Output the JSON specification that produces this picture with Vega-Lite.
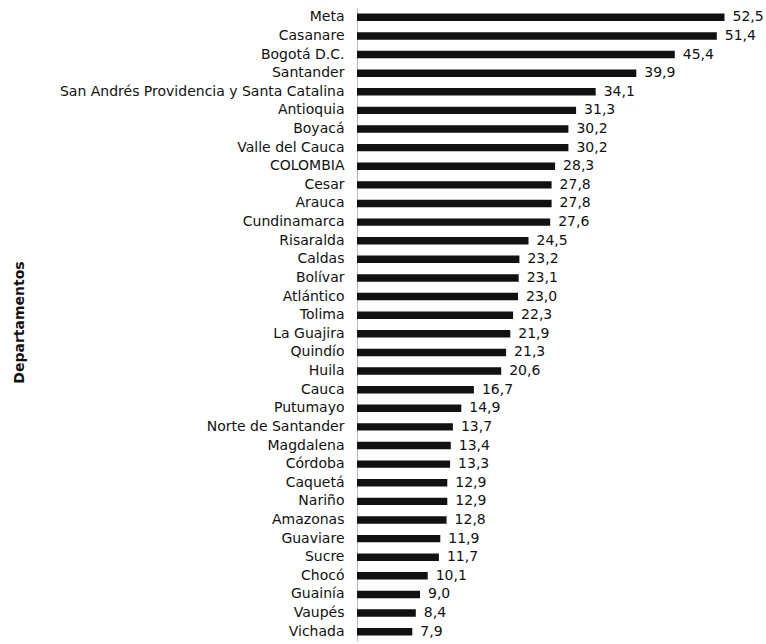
{
  "$schema": "https://vega.github.io/schema/vega-lite/v6.json",
  "autosize": "none",
  "width": 385,
  "height": 633,
  "padding": {"left": 357, "top": 8, "right": 24, "bottom": 3},
  "background": "white",
  "config": {
    "view": {"stroke": null},
    "locale": {"number": {"decimal": ",", "thousands": ".", "grouping": [3], "currency": ["", ""]}},
    "font": "DejaVu Sans"
  },
  "data": {
    "values": [
      {"dep": "Meta", "v": 52.5},
      {"dep": "Casanare", "v": 51.4},
      {"dep": "Bogotá D.C.", "v": 45.4},
      {"dep": "Santander", "v": 39.9},
      {"dep": "San Andrés Providencia y Santa Catalina", "v": 34.1},
      {"dep": "Antioquia", "v": 31.3},
      {"dep": "Boyacá", "v": 30.2},
      {"dep": "Valle del Cauca", "v": 30.2},
      {"dep": "COLOMBIA", "v": 28.3},
      {"dep": "Cesar", "v": 27.8},
      {"dep": "Arauca", "v": 27.8},
      {"dep": "Cundinamarca", "v": 27.6},
      {"dep": "Risaralda", "v": 24.5},
      {"dep": "Caldas", "v": 23.2},
      {"dep": "Bolívar", "v": 23.1},
      {"dep": "Atlántico", "v": 23.0},
      {"dep": "Tolima", "v": 22.3},
      {"dep": "La Guajira", "v": 21.9},
      {"dep": "Quindío", "v": 21.3},
      {"dep": "Huila", "v": 20.6},
      {"dep": "Cauca", "v": 16.7},
      {"dep": "Putumayo", "v": 14.9},
      {"dep": "Norte de Santander", "v": 13.7},
      {"dep": "Magdalena", "v": 13.4},
      {"dep": "Córdoba", "v": 13.3},
      {"dep": "Caquetá", "v": 12.9},
      {"dep": "Nariño", "v": 12.9},
      {"dep": "Amazonas", "v": 12.8},
      {"dep": "Guaviare", "v": 11.9},
      {"dep": "Sucre", "v": 11.7},
      {"dep": "Chocó", "v": 10.1},
      {"dep": "Guainía", "v": 9.0},
      {"dep": "Vaupés", "v": 8.4},
      {"dep": "Vichada", "v": 7.9}
    ]
  },
  "encoding": {
    "y": {
      "field": "dep",
      "type": "nominal",
      "sort": null,
      "scale": {"paddingInner": 0.6, "paddingOuter": 0.3},
      "axis": {
        "title": "Departamentos",
        "titleFont": "DejaVu Sans",
        "titleFontSize": 14,
        "titleFontWeight": "bold",
        "titleColor": "#111",
        "titleX": -338,
        "titleY": 314,
        "titleAngle": 270,
        "titleAlign": "center",
        "titleBaseline": "middle",
        "labelFont": "DejaVu Sans",
        "labelFontSize": 14,
        "labelColor": "#111",
        "labelPadding": 13,
        "labelLimit": 400,
        "ticks": false,
        "domain": true,
        "domainColor": "#bbbbbb",
        "domainWidth": 1,
        "grid": false
      }
    },
    "x": {
      "field": "v",
      "type": "quantitative",
      "scale": {"domain": [0, 55], "nice": false},
      "axis": null
    }
  },
  "layer": [
    {"mark": {"type": "bar", "color": "#111111"}},
    {
      "mark": {"type": "text", "align": "left", "baseline": "middle", "dx": 8, "font": "DejaVu Sans", "fontSize": 14, "color": "#111"},
      "encoding": {"text": {"field": "v", "type": "quantitative", "format": ".1f"}}
    }
  ]
}
